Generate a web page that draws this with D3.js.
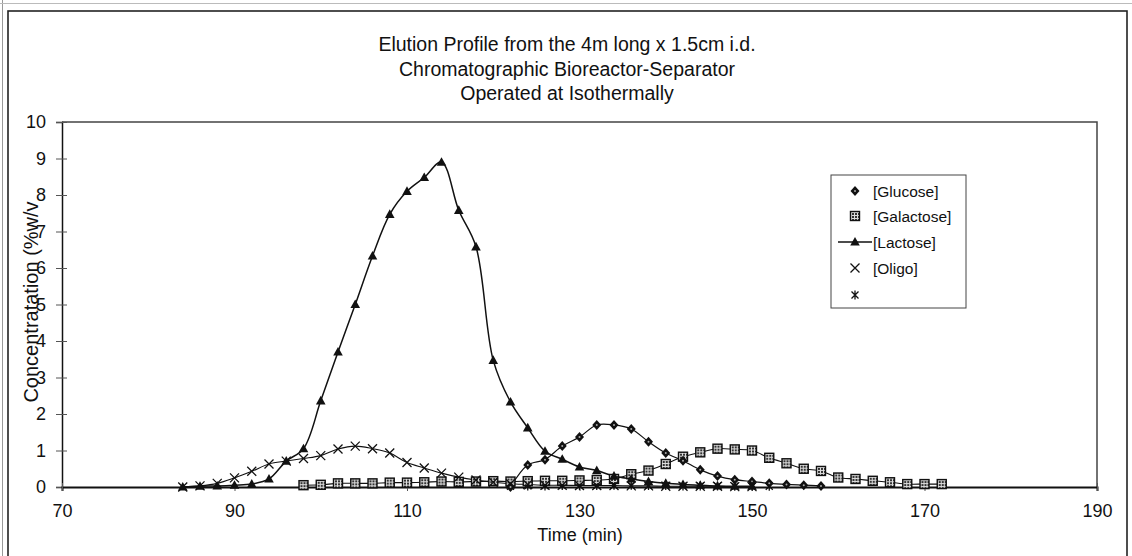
<!DOCTYPE html>
<html>
<head>
<meta charset="utf-8">
<script src="https://cdn.jsdelivr.net/npm/d3@7"></script>
<style>
  html, body { margin: 0; padding: 0; background: #fff; }
  svg { display: block; }
  text { font-family: "Liberation Sans", Arial, sans-serif; fill: #111; }
</style>
</head>
<body>
<svg id="chart" width="1132" height="556"></svg>
<script>
// Sample times (min) and concentrations (%w/v) for each component
const lactoseTime = [84, 86, 88, 90, 92, 94, 96, 98, 100, 102, 104, 106, 108, 110, 112, 114, 116, 118, 120, 122, 124, 126, 128, 130, 132, 134, 136, 138, 140, 142, 144, 146, 148, 150];
const lactose     = [0.0, 0.02, 0.03, 0.05, 0.08, 0.22, 0.71, 1.05, 2.36, 3.7, 5.0, 6.33, 7.47, 8.1, 8.48, 8.9, 7.58, 6.58, 3.47, 2.33, 1.62, 0.98, 0.76, 0.55, 0.45, 0.3, 0.22, 0.15, 0.1, 0.07, 0.05, 0.03, 0.02, 0.02];

const glucoseTime = [122, 124, 126, 128, 130, 132, 134, 136, 138, 140, 142, 144, 146, 148, 150, 152, 154, 156, 158];
const glucose     = [0.0, 0.6, 0.75, 1.12, 1.37, 1.7, 1.7, 1.59, 1.24, 0.93, 0.72, 0.47, 0.3, 0.2, 0.15, 0.1, 0.07, 0.05, 0.03];

const galactoseTime = [98, 100, 102, 104, 106, 108, 110, 112, 114, 116, 118, 120, 122, 124, 126, 128, 130, 132, 134, 136, 138, 140, 142, 144, 146, 148, 150, 152, 154, 156, 158, 160, 162, 164, 166, 168, 170, 172];
const galactose     = [0.05, 0.06, 0.1, 0.1, 0.1, 0.12, 0.12, 0.13, 0.15, 0.14, 0.15, 0.16, 0.15, 0.16, 0.17, 0.17, 0.18, 0.19, 0.22, 0.35, 0.45, 0.63, 0.83, 0.95, 1.05, 1.03, 1.0, 0.8, 0.65, 0.5, 0.44, 0.26, 0.22, 0.17, 0.13, 0.08, 0.08, 0.08];

const oligoTime = [84, 86, 88, 90, 92, 94, 96, 98, 100, 102, 104, 106, 108, 110, 112, 114, 116, 118, 120, 122, 124, 126, 128, 130, 132, 134, 136, 138, 140, 142, 144, 146, 148, 150];
const oligo     = [0.0, 0.03, 0.1, 0.25, 0.43, 0.63, 0.71, 0.78, 0.86, 1.04, 1.12, 1.05, 0.93, 0.67, 0.52, 0.38, 0.27, 0.19, 0.13, 0.09, 0.07, 0.05, 0.05, 0.04, 0.04, 0.04, 0.03, 0.03, 0.02, 0.02, 0.02, 0.02, 0.01, 0.01];

const otherTime = [122, 124, 126, 128, 130, 132, 134, 136, 138, 140, 142, 144, 146, 148, 150, 152];
const other     = [0.02, 0.03, 0.03, 0.04, 0.04, 0.04, 0.05, 0.05, 0.04, 0.04, 0.03, 0.03, 0.03, 0.02, 0.02, 0.02];

const xTicks = [70, 90, 110, 130, 150, 170, 190];
const yTicks = [0, 1, 2, 3, 4, 5, 6, 7, 8, 9, 10];

const titleLines = [
  "Elution Profile from the 4m long x 1.5cm i.d.",
  "Chromatographic Bioreactor-Separator",
  "Operated at Isothermally"
];
const legendLabels = ["[Glucose]", "[Galactose]", "[Lactose]", "[Oligo]", ""];

const svg = d3.select("#chart");

// Chart frame
svg.append("line").attr("x1", 2.5).attr("x2", 2.5).attr("y1", 0).attr("y2", 556)
  .attr("stroke", "#999").attr("stroke-width", 1);
svg.append("line").attr("x1", 0).attr("x2", 1132).attr("y1", 3.5).attr("y2", 3.5)
  .attr("stroke", "#bbb").attr("stroke-width", 1);
svg.append("rect").attr("x", 8).attr("y", 11).attr("width", 1119).attr("height", 570)
  .attr("fill", "none").attr("stroke", "#222").attr("stroke-width", 1.6);

// Plot area
const plot = { left: 62, top: 122, right: 1097, bottom: 487 };
const x = d3.scaleLinear().domain([70, 190]).range([plot.left, plot.right]);
const y = d3.scaleLinear().domain([0, 10]).range([plot.bottom, plot.top]);

// Title
svg.append("g").selectAll("text").data(titleLines).join("text")
  .attr("x", 567).attr("y", (d, i) => 51 + i * 24.5)
  .attr("text-anchor", "middle").attr("font-size", 19.5)
  .text(d => d);

// Plot border (top and right)
svg.append("path")
  .attr("d", `M${plot.left},${plot.top}H${plot.right}V${plot.bottom}`)
  .attr("fill", "none").attr("stroke", "#444").attr("stroke-width", 1.5);

// Axes
const yAxis = d3.axisLeft(y).tickValues(yTicks).tickSize(6).tickPadding(10).tickFormat(d3.format("d"));
const gy = svg.append("g").attr("transform", `translate(${plot.left},0)`).call(yAxis);
gy.select(".domain").attr("stroke", "#111").attr("stroke-width", 1.5);
gy.selectAll(".tick line").attr("stroke", "#555").attr("x2", 5).attr("x1", -6);
gy.selectAll(".tick text").attr("font-size", 18).attr("font-family", "Liberation Sans, Arial, sans-serif").attr("fill", "#111");

const xAxis = d3.axisBottom(x).tickValues(xTicks).tickSize(4).tickPadding(13).tickFormat(d3.format("d"));
const gx = svg.append("g").attr("transform", `translate(0,${plot.bottom})`).call(xAxis);
gx.select(".domain").attr("stroke", "#111").attr("stroke-width", 2);
gx.selectAll(".tick line").attr("stroke", "#555").attr("y1", -4);
gx.selectAll(".tick text").attr("font-size", 18).attr("font-family", "Liberation Sans, Arial, sans-serif").attr("fill", "#111");

// Axis titles
svg.append("text").attr("x", 580).attr("y", 541).attr("text-anchor", "middle")
  .attr("font-size", 18).text("Time (min)");
svg.append("text").attr("transform", "translate(38,302) rotate(-90)")
  .attr("text-anchor", "middle").attr("font-size", 20).text("Concentratation (%w/v");

// Pattern for the galactose squares
const defs = svg.append("defs");
const pat = defs.append("pattern").attr("id", "chk").attr("patternUnits", "userSpaceOnUse")
  .attr("width", 3).attr("height", 3);
pat.append("rect").attr("width", 3).attr("height", 3).attr("fill", "#ddd");
pat.append("rect").attr("width", 2).attr("height", 2).attr("fill", "#333");

// Marker drawing helpers
function drawMarker(g, kind) {
  if (kind === "diamond") {
    g.append("path").attr("d", "M0,-5L4.5,0L0,5L-4.5,0Z").attr("fill", "#111");
    g.append("circle").attr("r", 1).attr("fill", "#aaa");
  } else if (kind === "square") {
    g.append("rect").attr("x", -4.5).attr("y", -4.5).attr("width", 9).attr("height", 9)
      .attr("fill", "url(#chk)").attr("stroke", "#111").attr("stroke-width", 1.4);
  } else if (kind === "triangle") {
    g.append("path").attr("d", "M0,-5L4.8,3.6H-4.8Z").attr("fill", "#111");
  } else if (kind === "cross") {
    g.append("path").attr("d", "M-4.5,-4.5L4.5,4.5M-4.5,4.5L4.5,-4.5").attr("stroke", "#111").attr("stroke-width", 1.3);
  } else if (kind === "star") {
    g.append("path").attr("d", "M-3.5,-3.5L3.5,3.5M-3.5,3.5L3.5,-3.5M0,-4.5V4.5")
      .attr("stroke", "#111").attr("stroke-width", 1.3);
  }
}

const smooth = d3.line().x(d => x(d[0])).y(d => y(d[1])).curve(d3.curveCatmullRom.alpha(0.5));
const zip = (t, v) => t.map((tt, i) => [tt, v[i]]);

const series = [
  { name: "other",     t: otherTime,     v: other,     marker: "star",     line: false, w: 1 },
  { name: "galactose", t: galactoseTime, v: galactose, marker: "square",   line: true,  w: 1.1 },
  { name: "oligo",     t: oligoTime,     v: oligo,     marker: "cross",    line: true,  w: 1.1 },
  { name: "glucose",   t: glucoseTime,   v: glucose,   marker: "diamond",  line: true,  w: 1.2 },
  { name: "lactose",   t: lactoseTime,   v: lactose,   marker: "triangle", line: true,  w: 1.5 }
];

// Smoothed lines
series.filter(s => s.line).forEach(s => {
  svg.append("path").datum(zip(s.t, s.v)).attr("d", smooth)
    .attr("fill", "none").attr("stroke", "#111").attr("stroke-width", s.w);
});

// Markers
series.forEach(s => {
  const g = svg.append("g");
  zip(s.t, s.v).forEach(d => {
    const m = g.append("g").attr("transform", `translate(${x(d[0])},${y(d[1])})`);
    drawMarker(m, s.marker);
  });
});

// Legend
const lg = svg.append("g");
lg.append("rect").attr("x", 831).attr("y", 175).attr("width", 135).attr("height", 133)
  .attr("fill", "#fff").attr("stroke", "#444").attr("stroke-width", 1);
const legendKinds = ["diamond", "square", "triangle", "cross", "star"];
const legendY = [191, 216, 242, 268, 295];
legendKinds.forEach((k, i) => {
  if (k === "triangle") {
    lg.append("line").attr("x1", 838).attr("x2", 872).attr("y1", legendY[i]).attr("y2", legendY[i])
      .attr("stroke", "#111").attr("stroke-width", 1.5);
  }
  const m = lg.append("g").attr("transform", `translate(855,${legendY[i]})`);
  drawMarker(m, k);
  lg.append("text").attr("x", 873).attr("y", legendY[i] + 5.5).attr("font-size", 15.5).text(legendLabels[i]);
});
</script>
</body>
</html>
